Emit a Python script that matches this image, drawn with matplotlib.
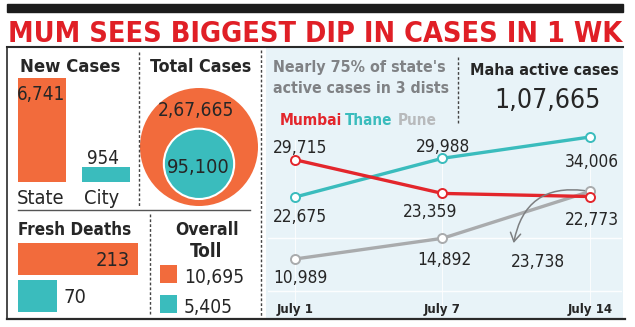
import matplotlib
matplotlib.use('Agg')
import matplotlib.pyplot as plt
from matplotlib.patches import Rectangle, Circle
from matplotlib.text import Text
from matplotlib import font_manager as fm

W, H = 635, 327

title = 'MUM SEES BIGGEST DIP IN CASES IN 1 WK'
new_labels = ['State', 'City']
new_cases = [6741, 954]
total_cases = [267665, 95100]      # state, city
fresh_deaths = [213, 70]           # state, city
overall_toll = [10695, 5405]       # state, city
maha_active = 107665
dates = ['July 1', 'July 7', 'July 14']
mumbai = [29715, 23359, 22773]
thane = [22675, 29988, 34006]
pune = [10989, 14892, 23738]

ORANGE = '#F26B3C'
TEAL = '#3ABCBD'
RED = '#E3262C'
PUNE = '#A9ABAD'
INK = '#262626'
PANEL = '#E8F3F8'

# narrowest sans available
fonts = fm.fontManager.ttflist
names = {f.name for f in fonts}
STRETCH = 'normal'
if 'Liberation Sans Narrow' in names:
    FAM = 'Liberation Sans Narrow'
elif any(f.name == 'DejaVu Sans' and 'Condensed' in f.fname for f in fonts):
    FAM, STRETCH = 'DejaVu Sans', 'condensed'
elif 'Roboto Condensed' in names:
    FAM = 'Roboto Condensed'
else:
    FAM = 'Liberation Sans'
plt.rcParams['font.family'] = [FAM, 'DejaVu Sans']
plt.rcParams['font.stretch'] = STRETCH


def inr(n):
    # indian digit grouping: 2,67,665
    s = str(n)
    if len(s) <= 3:
        return s
    head, tail = s[:-3], s[-3:]
    groups = []
    while len(head) > 2:
        groups.insert(0, head[-2:])
        head = head[:-2]
    if head:
        groups.insert(0, head)
    return ','.join(groups + [tail])


# text sized to a target pixel width; a Text as target means "same size as"
fits = []
def fit(t, width):
    fits.append((t, width))
    return t


fig = plt.figure(figsize=(W / 100, H / 100), dpi=100)
bg = fig.add_axes([0, 0, 1, 1])
bg.set_xlim(0, W); bg.set_ylim(H, 0); bg.axis('off')


def box(x0, y0, x1, y1):
    a = fig.add_axes([x0 / W, 1 - y1 / H, (x1 - x0) / W, (y1 - y0) / H])
    a.patch.set_alpha(0)
    return a


def txt(x, y, s, w, ha='left', **kw):
    kw.setdefault('color', INK)
    return fit(bg.text(x, y, s, ha=ha, va='baseline', fontsize=10, **kw), w)


# frame
bg.add_patch(Rectangle((7, 4), 616, 8, color='#1c1c1c'))
bg.add_patch(Rectangle((266, 48), 357, 270, color=PANEL, lw=0))
bg.plot([7, 623], [47, 47], color='#2a2a2a', lw=1.5)
bg.plot([7, 7], [47, 319], color='#2a2a2a', lw=1.2)
bg.plot([7, 625], [319, 319], color='#2a2a2a', lw=1.6)
bg.plot([18, 250], [210, 210], color='#555', lw=1)
dots = dict(color='#444', lw=1, ls=(0, (2, 1.5)))
bg.plot([139, 139], [52, 206], **dots)
bg.plot([150, 150], [214, 316], **dots)
bg.plot([261, 261], [50, 317], **dots)
bg.plot([458, 458], [57, 124], **dots)

txt(8, 42, title, 612, color='#E01F26', weight='bold')

# ---- new cases ----
txt(20, 72, 'New Cases', 100, weight='bold')
ax = box(18, 78, 130, 182)
ax.bar(range(2), new_cases, width=0.76, color=[ORANGE, TEAL])
ax.set_xlim(-0.38, 1.38); ax.set_ylim(0, new_cases[0]); ax.axis('off')
val_off = [(-1, -22), (-2.5, 3)]
lab_off = [(-2, -22), (-4, -22)]
first_val = first_lab = None
for i, (v, lab) in enumerate(zip(new_cases, new_labels)):
    tv = ax.annotate(f'{v:,}', (i, v), xytext=val_off[i], textcoords='offset pixels',
                     ha='center', va='baseline', color=INK, fontsize=10)
    tl = ax.annotate(lab, (i, 0), xytext=lab_off[i], textcoords='offset pixels',
                     ha='center', va='baseline', color=INK, fontsize=10)
    fit(tv, 48 if first_val is None else first_val)
    fit(tl, 48 if first_lab is None else first_lab)
    first_val = first_val or tv
    first_lab = first_lab or tl

# ---- total cases ----
txt(150, 72, 'Total Cases', 101, weight='bold')
R = 59
r = R * (total_cases[1] / total_cases[0]) ** 0.5
bg.add_patch(Circle((199, 147), R, color=ORANGE, lw=0))
bg.add_patch(Circle((199, 147 + R - r - 7), r, facecolor=TEAL, edgecolor='white', lw=1.5))
txt(196, 116, inr(total_cases[0]), 76, ha='center')
txt(198.5, 173, inr(total_cases[1]), 63, ha='center')

# ---- fresh deaths ----
txt(18, 235, 'Fresh Deaths', 113, weight='bold')
ax = box(18, 243, 138, 312)
ax.barh(range(2), fresh_deaths, height=0.865, color=[ORANGE, TEAL])
ax.set_xlim(0, fresh_deaths[0]); ax.set_ylim(1.432, -0.432); ax.axis('off')
d0 = fit(ax.annotate(str(fresh_deaths[0]), (fresh_deaths[0], 0), xytext=(-8, -7),
                     textcoords='offset pixels', ha='right', va='baseline',
                     color=INK, fontsize=10), 34)
fit(ax.annotate(str(fresh_deaths[1]), (fresh_deaths[1], 1), xytext=(6, -7),
                textcoords='offset pixels', ha='left', va='baseline',
                color=INK, fontsize=10), d0)

# ---- overall toll ----
txt(207.5, 235, 'Overall', 63, ha='center', weight='bold')
txt(206.5, 257, 'Toll', 32, ha='center', weight='bold')
t0 = None
for y0, v, c in zip([265, 295], overall_toll, [ORANGE, TEAL]):
    bg.add_patch(Rectangle((160, y0), 17, 18, color=c, lw=0))
    t = txt(184, y0 + 18, f'{v:,}', 60 if t0 is None else t0)
    t0 = t0 or t

# ---- right panel header ----
txt(273, 72, "Nearly 75% of state's", 172, color='#808285', weight='bold')
txt(273, 93, 'active cases in 3 dists', 175, color='#808285', weight='bold')
txt(470, 75, 'Maha active cases', 148, weight='bold')
txt(494, 108, inr(maha_active), 106)
txt(280, 125, 'Mumbai', 62, color=RED, weight='bold')
txt(345, 125, 'Thane', 47, color=TEAL, weight='bold')
txt(398, 125, 'Pune', 39, color='#B8BABC', weight='bold')

# ---- line chart ----
ax = box(268, 48, 622, 319)
ax.set_xlim(-0.183, 2.217); ax.set_ylim(-331, 50797); ax.axis('off')
for g in [5000, 15000]:
    ax.axhline(g, color='white', lw=1, alpha=0.9, zorder=0)
for i in range(3):
    ax.axvline(i, ymin=0.04, ymax=0.66, color='white', lw=0.8, alpha=0.8, zorder=0)
x = range(len(dates))
for ys, c in [(pune, PUNE), (thane, TEAL), (mumbai, RED)]:
    ax.plot(x, ys, color=c, lw=2.4, marker='o', ms=6.5, mfc='white', mec=c, mew=1.4)

offsets = {
    'm': [(5, 6.7), (-12.5, -23.6), (1.5, -28.5)],
    't': [(5, -24.9), (1, 6.3), (2, -30)],
    'p': [(5, -24), (1.5, -26.7)],
}
ref = None
for key, ys in [('m', mumbai), ('t', thane), ('p', pune)]:
    for i, off in enumerate(offsets[key]):
        t = ax.annotate(f'{ys[i]:,}', (i, ys[i]), xytext=off, textcoords='offset pixels',
                        ha='center', va='baseline', color=INK, fontsize=10)
        fit(t, 54 if ref is None else ref)
        ref = ref or t
# last pune value, pointed at with a curved arrow
fit(ax.annotate(f'{pune[2]:,}', (2, pune[2]), xytext=(-52.5, -75.6),
                textcoords='offset pixels', ha='center', va='baseline', color=INK, fontsize=10,
                arrowprops=dict(arrowstyle='<-,head_length=0.5,head_width=0.3',
                                connectionstyle='arc3,rad=-0.5', color='#7d7f81', lw=1.1,
                                relpos=(0.05, 1.4), shrinkA=2, shrinkB=4)), ref)

d_ref = None
for i, d in enumerate(dates):
    t = ax.text(i, 0.022, d, transform=ax.get_xaxis_transform(), ha='center', va='baseline',
                fontsize=8, weight='bold', color=INK)
    fit(t, 37 if d_ref is None else d_ref)
    d_ref = d_ref or t

fig.canvas.draw()
rend = fig.canvas.get_renderer()
for t, w in fits:
    if isinstance(w, Text):
        t.set_fontsize(w.get_fontsize())
        continue
    bb = Text.get_window_extent(t, rend)   # text only, not any arrow
    t.set_fontsize(t.get_fontsize() * w / bb.width)

fig.savefig('out.png', dpi=100)
